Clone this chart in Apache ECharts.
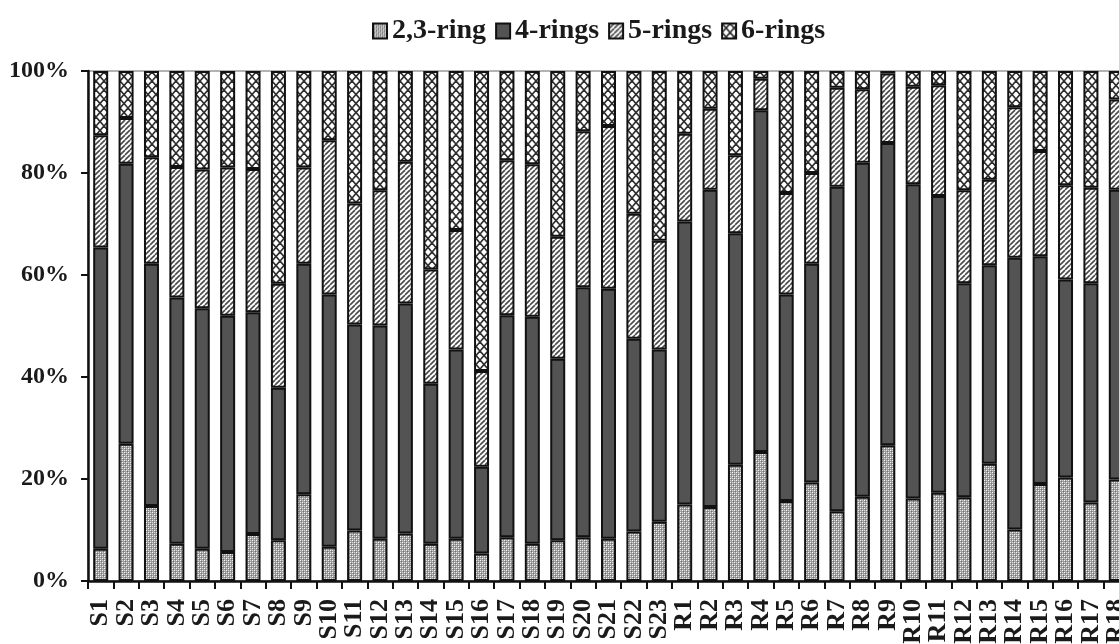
<!DOCTYPE html>
<html>
<head>
<meta charset="utf-8">
<script src="https://cdn.jsdelivr.net/npm/echarts@6/dist/echarts.min.js"></script>
<style>
html,body{margin:0;padding:0;background:#fff;}
#chart{width:1119px;height:644px;}
</style>
</head>
<body>
<div id="chart"></div>
<script>
const categories = ['S1','S2','S3','S4','S5','S6','S7','S8','S9','S10','S11','S12','S13','S14','S15','S16','S17','S18','S19','S20','S21','S22','S23',
  'R1','R2','R3','R4','R5','R6','R7','R8','R9','R10','R11','R12','R13','R14','R15','R16','R17','R18'];
const seriesNames = ['2,3-ring','4-rings','5-rings','6-rings'];
const ring23 = [6.3,26.9,14.7,7.3,6.3,5.7,9.2,8.0,17.0,6.7,9.9,8.3,9.3,7.3,8.3,5.4,8.6,7.3,8.0,8.6,8.3,9.7,11.6,
  15.0,14.5,22.8,25.3,15.7,19.3,13.7,16.5,26.6,16.2,17.3,16.4,23.0,10.1,19.0,20.3,15.4,19.9];
const ring4 = [59.1,54.9,47.5,48.3,47.2,46.3,43.5,29.9,45.2,49.5,40.4,41.8,45.1,31.4,37.1,17.0,43.5,44.5,35.6,49.0,49.0,37.8,33.8,
  55.5,62.2,45.4,67.0,40.5,42.9,63.6,65.5,59.3,61.6,58.2,42.0,38.9,53.3,44.7,38.8,43.0,56.8];
const ring5 = [22.0,9.0,20.9,25.6,27.2,29.1,28.1,20.4,18.9,30.2,23.7,26.5,27.8,22.4,23.4,18.8,30.4,29.9,23.9,30.6,31.9,24.5,21.3,
  17.2,15.9,15.3,6.2,19.9,17.8,19.4,14.4,13.6,19.1,21.7,18.2,16.8,29.5,20.6,18.5,18.7,17.7];
const ring6 = [12.6,9.2,16.9,18.8,19.3,18.9,19.2,41.7,18.9,13.6,26.0,23.4,17.8,38.9,31.2,58.8,17.5,18.3,32.5,11.8,10.8,28.0,33.3,
  12.3,7.4,16.5,1.5,23.9,20.0,3.3,3.6,0.5,3.1,2.8,23.4,21.3,7.1,15.7,22.4,22.9,5.6];
const yTicks = {min:0, max:100, interval:20};

function makePattern(w, h, draw) {
  const c = document.createElement('canvas');
  c.width = w; c.height = h;
  const g = c.getContext('2d');
  draw(g, w, h);
  return { image: c, repeat: 'repeat' };
}
const patDots = makePattern(4, 4, (g) => {
  g.fillStyle = '#9c9c9c'; g.fillRect(0, 0, 4, 4);
  g.fillStyle = '#f8f8f8';
  g.fillRect(0, 0, 1, 1); g.fillRect(2, 2, 1, 1);
  g.fillStyle = '#d6d6d6';
  g.fillRect(2, 0, 1, 1); g.fillRect(0, 2, 1, 1);
  g.fillStyle = '#727272';
  g.fillRect(1, 1, 1, 1); g.fillRect(3, 3, 1, 1);
});
const patSolid = '#535353';
const patHatch = makePattern(5, 5, (g) => {
  g.fillStyle = '#ffffff'; g.fillRect(0, 0, 5, 5);
  g.strokeStyle = '#4a4a4a'; g.lineWidth = 1.6;
  [-5, 0, 5].forEach(o => { g.beginPath(); g.moveTo(o, 5); g.lineTo(o + 5, 0); g.stroke(); });
});
const patCross = makePattern(8, 9, (g) => {
  g.fillStyle = '#ffffff'; g.fillRect(0, 0, 8, 9);
  g.strokeStyle = '#2e2e2e'; g.lineWidth = 1.6;
  g.beginPath(); g.moveTo(0, 0); g.lineTo(8, 9); g.stroke();
  g.beginPath(); g.moveTo(8, 0); g.lineTo(0, 9); g.stroke();
});
const fills = [patDots, patSolid, patHatch, patCross];
const values = [ring23, ring4, ring5, ring6];

const serif = 'Liberation Serif, Times New Roman, serif';
const chart = echarts.init(document.getElementById('chart'), null, {renderer: 'canvas'});
chart.setOption({
  animation: false,
  backgroundColor: '#ffffff',
  legend: {
    data: seriesNames,
    icon: 'rect',
    top: 12,
    left: 367,
    itemWidth: 14,
    itemHeight: 15,
    itemGap: 9,
    textStyle: { fontFamily: serif, fontWeight: 'bold', fontSize: 28, color: '#1a1a1a' }
  },
  grid: {
    left: 88, right: -10, top: 71, bottom: 63,
    outerBoundsMode: 'none',
    containLabel: false,
    show: true, borderColor: '#9a9a9a', borderWidth: 1.5, backgroundColor: 'transparent'
  },
  xAxis: {
    type: 'category',
    data: categories,
    axisLine: { lineStyle: { color: '#111', width: 2.5 } },
    axisTick: { show: true, length: 8, lineStyle: { color: '#111', width: 2 } },
    axisLabel: { rotate: 90, margin: 18, interval: 0, fontFamily: serif, fontWeight: 'bold', fontSize: 26, color: '#1a1a1a' }
  },
  yAxis: {
    type: 'value',
    min: yTicks.min, max: yTicks.max, interval: yTicks.interval,
    axisLine: { show: true, lineStyle: { color: '#111', width: 2.5 } },
    axisTick: { show: true, length: 7, lineStyle: { color: '#111', width: 2 } },
    splitLine: { show: false },
    axisLabel: { formatter: '{value}%', margin: 19, fontFamily: serif, fontWeight: 'bold', fontSize: 24, color: '#1a1a1a' }
  },
  series: seriesNames.map((name, i) => ({
    name: name,
    type: 'bar',
    stack: 'total',
    barWidth: 15,
    data: values[i],
    itemStyle: { color: fills[i], borderColor: '#111', borderWidth: 2 }
  }))
});
</script>
</body>
</html>
